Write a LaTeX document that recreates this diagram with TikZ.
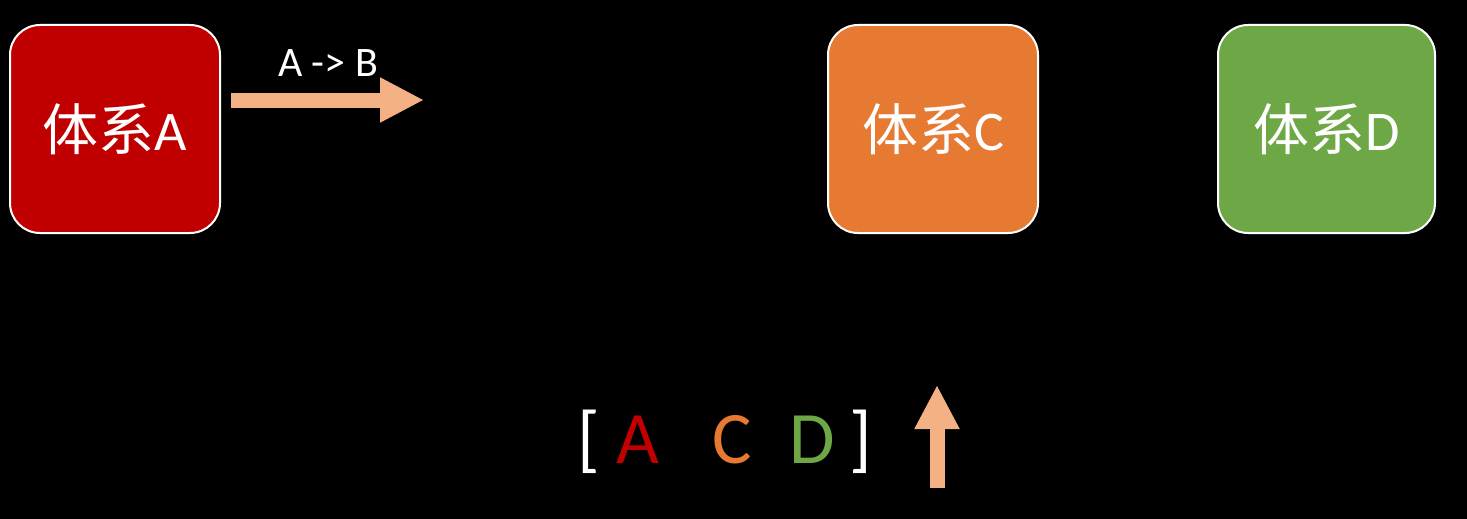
\documentclass[tikz,border=0pt]{standalone}
\usepackage{fontspec}
\setmainfont{Carlito}
\newfontfamily\cjk{Noto Sans CJK SC}
\usetikzlibrary{arrows.meta,calc}
\definecolor{boxred}{HTML}{C00000}
\definecolor{boxorange}{HTML}{E67A32}
\definecolor{boxgreen}{HTML}{6EA846}
\definecolor{peach}{HTML}{F4B183}
\tikzset{
  sysbox/.style={draw=white, line width=2pt, rounded corners=30pt,
    minimum width=210pt, minimum height=208pt, inner sep=0pt,
    text=white, font=\fontsize{56}{62}\selectfont},
  fatarrow/.style={draw=peach, line width=15pt,
    -{Triangle[length=44pt,width=42pt]}},
  listtxt/.style={anchor=base, inner sep=0pt, font=\fontsize{74}{80}\selectfont}
}
\begin{document}
\begin{tikzpicture}[x=1pt,y=-1pt]
\fill[black] (0,0) rectangle (1467,519);
\useasboundingbox (0,0) rectangle (1467,519);
\node[sysbox, fill=boxred] (A) at (115,129) {{\cjk 体系}A};
\node[sysbox, fill=boxorange] (C) at (933,129) {{\cjk 体系}C};
\node[sysbox, fill=boxgreen, minimum width=217pt] (D) at (1326.5,129) {{\cjk 体系}D};
\coordinate (abend) at (424,100);
\draw[fatarrow] ($(A.east)+(10,-29)$) -- (abend);
\node[text=white, font=\fontsize{42}{48}\selectfont] (ablabel) at (328,63) {A -> B};
\node[listtxt, text=white] (lb) at (589,463) {[};
\node[listtxt, text=boxred] (la) at (638,463) {A};
\node[listtxt, text=boxorange] (lc) at (732,463) {C};
\node[listtxt, text=boxgreen] (ld) at (812,463) {D};
\node[listtxt, text=white] (rb) at (861,463) {]};
\coordinate (upbot) at (937,488);
\coordinate (uptop) at (937,385);
\draw[fatarrow] (upbot) -- (uptop);
\end{tikzpicture}
\end{document}
